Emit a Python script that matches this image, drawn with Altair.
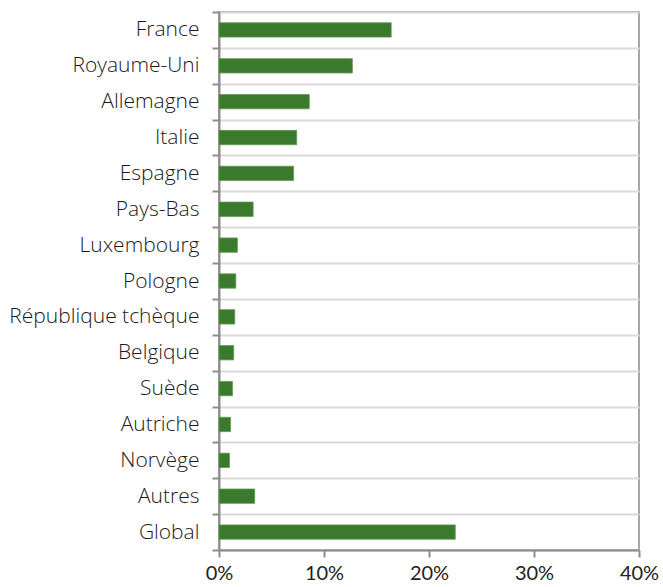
import altair as alt
import pandas as pd

countries = ["France", "Royaume-Uni", "Allemagne", "Italie", "Espagne", "Pays-Bas",
             "Luxembourg", "Pologne", "République tchèque", "Belgique", "Suède",
             "Autriche", "Norvège", "Autres", "Global"]
values = [16.4, 12.7, 8.6, 7.4, 7.1, 3.25, 1.75, 1.6, 1.5, 1.4, 1.28, 1.1, 1.0, 3.4, 22.5]
x_ticks = [0, 10, 20, 30, 40]

df = pd.DataFrame({"pays": countries, "val": [v / 100 for v in values]})

chart = alt.Chart(df).mark_bar(color="#3b7a2d", stroke="#5f9a4f", strokeWidth=0.8,
                               height={"band": 0.4}).encode(
    x=alt.X("val:Q",
            scale=alt.Scale(domain=[0, 0.4], nice=False),
            axis=alt.Axis(values=[t / 100 for t in x_ticks], format=".0%", title=None,
                          grid=False, domainColor="#8c8c8c", domainWidth=2,
                          tickColor="#8c8c8c", tickWidth=2, tickSize=7,
                          labelFont="Lato", labelFontSize=20, labelColor="#222222",
                          labelPadding=6, labelFlush=False)),
    y=alt.Y("pays:N", sort=countries,
            scale=alt.Scale(paddingInner=0, paddingOuter=0),
            axis=alt.Axis(title=None, tickBand="extent", grid=True,
                          gridColor="#d9d9d9", gridWidth=2,
                          domainColor="#8c8c8c", domainWidth=2,
                          tickColor="#8c8c8c", tickWidth=2, tickSize=7,
                          labelFont="Open Sans", labelFontWeight=300, labelFontSize=21,
                          labelColor="#1a1a1a", labelPadding=13, labelLimit=300)),
).properties(
    width=420, height=538,
    autosize=alt.AutoSizeParams(type="none"),
    padding={"left": 219, "top": 12, "right": 24, "bottom": 37},
).configure_view(stroke="#a6a6a6", strokeWidth=2)

chart.save("out.html", embed_options={"renderer": "svg", "actions": False})
